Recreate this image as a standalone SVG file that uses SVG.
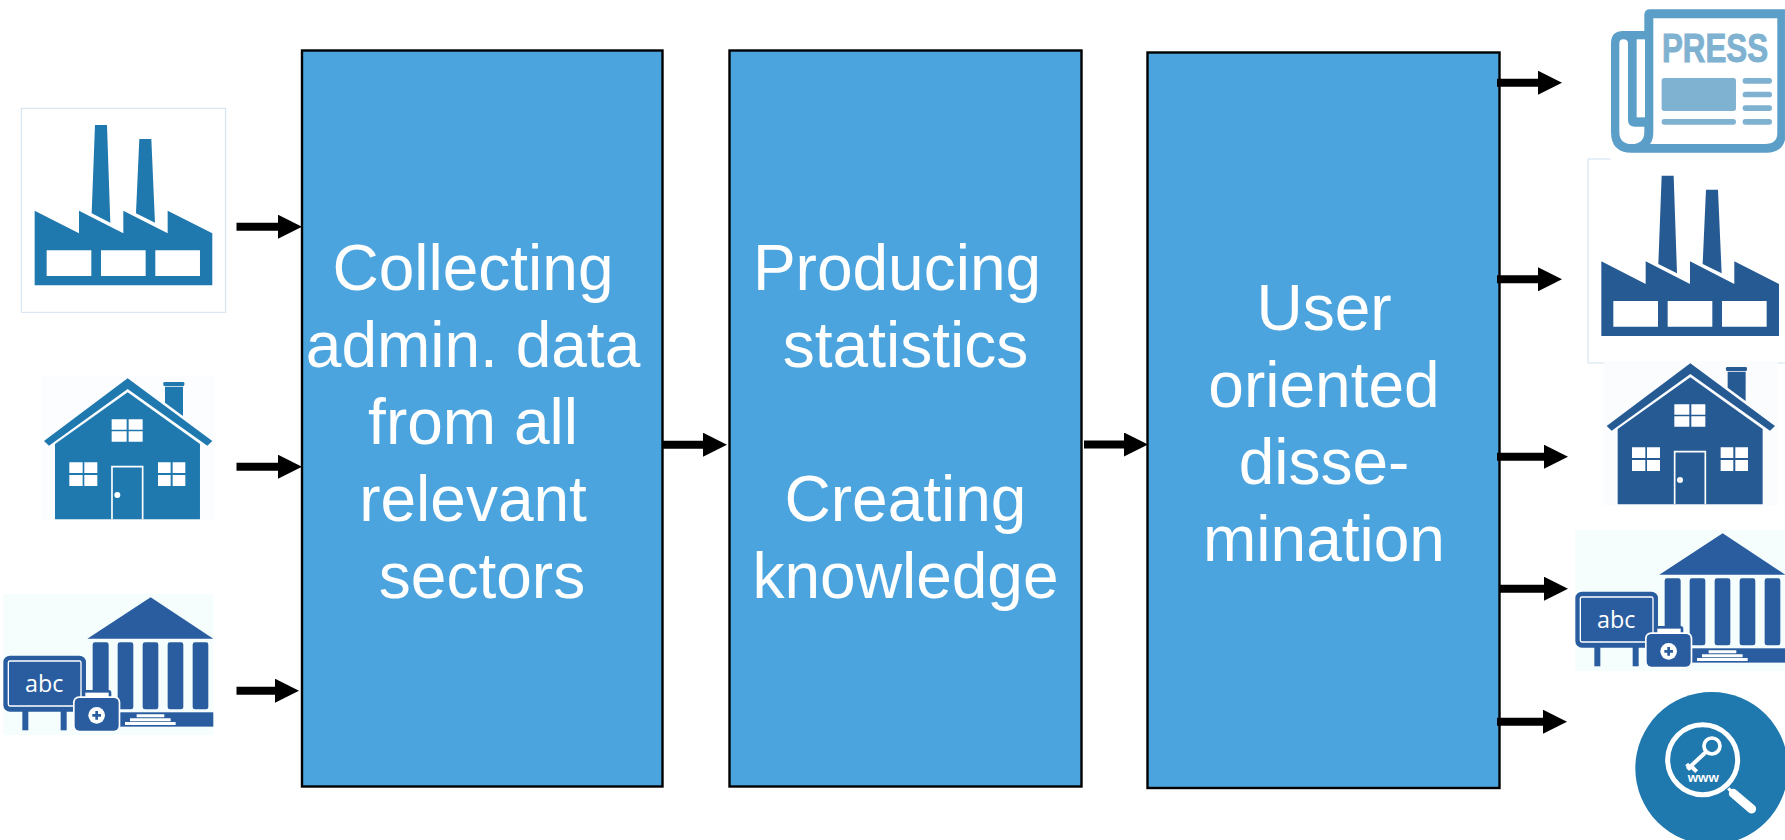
<svg xmlns="http://www.w3.org/2000/svg" xmlns:xlink="http://www.w3.org/1999/xlink" width="1785" height="840" viewBox="0 0 1785 840">
<style>
.box{fill:#4ba4de;stroke:#000;stroke-width:2.4}
.lbl{font-family:"Liberation Sans",Arial,sans-serif;font-size:64px;fill:#fff;text-anchor:middle}
.arr{stroke:#000;stroke-width:8;fill:none;marker-end:url(#ah)}
.w{fill:#fff}
.teal{fill:#1f78ae;color:#1f78ae}
.navy{fill:#265a93;color:#265a93}
.inst{fill:#2a5d9f;color:#2a5d9f}
.frame{fill:none;stroke:#cfe2f0;stroke-width:3}
</style>
<defs>
<marker id="ah" markerUnits="userSpaceOnUse" markerWidth="24" markerHeight="24" refX="1" refY="12" orient="auto" viewBox="0 0 24 24"><path d="M0 0L24 12L0 24Z" fill="#000"/></marker>
<g id="factory">
<path d="M285 105H321L331 398L275 370ZM418 147H454L465 398L408 370Z"/>
<path d="M104 362L237 430V362L370 430V362L503 430V362L637 430V586H104Z"/>
<path class="w" d="M140 481H274V558H140ZM303 481H437V558H303ZM466 481H600V558H466Z"/>
</g>
<g id="house">
<path d="M495 80H549V168L495 128Z"/>
<rect x="490" y="66" width="63" height="12" rx="4"/>
<path d="M383 55L637 243L622 257L383 87L147 257L132 243Z"/>
<path d="M165 252L383 97L600 252V478H165Z"/>
<path class="w" d="M335 178H380V209H335ZM386 178H428V209H386ZM335 214H380V245H335ZM386 214H428V245H386Z"/>
<path class="w" d="M208 307H248V339H208ZM253 307H292V339H253ZM208 345H248V378H208ZM253 345H292V378H253Z"/>
<path class="w" d="M474 307H512V339H474ZM518 307H556V339H518ZM474 345H512V378H474ZM518 345H556V378H518Z"/>
<path d="M336 478V320H428V478" fill="none" stroke="#fff" stroke-width="5"/>
<circle class="w" cx="352" cy="405" r="9"/>
</g>
<g id="inst">
<path d="M452 712L640 836H262Z"/>
<rect x="278" y="847" width="48" height="201" rx="7"/>
<rect x="353" y="847" width="47" height="201" rx="7"/>
<rect x="428" y="847" width="47" height="201" rx="7"/>
<rect x="503" y="847" width="47" height="201" rx="7"/>
<rect x="578" y="847" width="47" height="201" rx="7"/>
<rect x="350" y="1057" width="290" height="43"/>
<path class="w" d="M410 1063H493V1072H410ZM390 1075H512V1084H390ZM375 1086H527V1095H375Z"/>
<rect x="67" y="1045" width="18" height="66"/>
<rect x="182" y="1045" width="18" height="66"/>
<rect x="10" y="887" width="248" height="168" rx="20"/>
<rect x="25" y="903" width="218" height="135" rx="5" fill="none" stroke="#fff" stroke-width="4"/>
<text x="133" y="997" font-family="'Open Sans','Liberation Sans',sans-serif" font-size="70" fill="#fff" text-anchor="middle">abc</text>
<rect x="248" y="990" width="86" height="40" rx="8"/>
<rect x="256" y="998" width="70" height="18" fill="#fff"/>
<rect x="219" y="1009" width="142" height="106" rx="18" fill="#fff"/>
<rect x="224" y="1014" width="132" height="98" rx="14"/>
<circle cx="290" cy="1066" r="25" fill="#fff"/>
<path d="M290 1053V1079M277 1066H303" stroke="currentColor" stroke-width="8" fill="none"/>
</g>
</defs>
<rect width="1785" height="840" fill="#fff"/>

<g id="source-enterprise">
<rect class="frame" transform="translate(0 90) scale(.3333)" x="64" y="55" width="613" height="612"/>
<use href="#factory" class="teal" transform="translate(0 90) scale(.3333)"/>
</g>
<g id="source-household" transform="translate(0 360) scale(.3333)">
<rect x="123" y="48" width="522" height="434" fill="#fbfdfe"/>
<use href="#house" class="teal"/>
</g>
<g id="source-institution" transform="translate(0 360) scale(.3333)">
<rect x="10" y="702" width="630" height="423" fill="#f5fdfd"/>
<use href="#inst" class="inst"/>
</g>

<g id="box-collecting">
<rect class="box" x="302" y="50.5" width="360.5" height="736"/>
<text class="lbl" y="290"><tspan x="473">Collecting</tspan><tspan x="473" dy="77">admin. data</tspan><tspan x="473" dy="77">from all</tspan><tspan x="473" dy="77">relevant</tspan><tspan x="482" dy="77">sectors</tspan></text>
</g>
<g id="box-producing">
<rect class="box" x="729.5" y="50.5" width="352" height="736"/>
<text class="lbl" y="290"><tspan x="897">Producing</tspan><tspan x="905.5" dy="77">statistics</tspan><tspan x="905.5" dy="154">Creating</tspan><tspan x="905.5" dy="77">knowledge</tspan></text>
</g>
<g id="box-dissemination">
<rect class="box" x="1147.5" y="52.5" width="352" height="735.5"/>
<text class="lbl" y="330"><tspan x="1324">User</tspan><tspan x="1324" dy="77">oriented</tspan><tspan x="1324" dy="77">disse-</tspan><tspan x="1324" dy="77">mination</tspan></text>
</g>

<g id="connectors">
<path class="arr" d="M236.5 226.7H279"/>
<path class="arr" d="M236.5 466.7H279"/>
<path class="arr" d="M236.5 690.7H276"/>
<path class="arr" d="M663 444.7H704"/>
<path class="arr" d="M1084 444.5H1125"/>
<path class="arr" d="M1497 82.7H1539"/>
<path class="arr" d="M1497 279.3H1539"/>
<path class="arr" d="M1497 456.7H1545"/>
<path class="arr" d="M1500 588.7H1545"/>
<path class="arr" d="M1497 721.7H1544"/>
</g>

<g id="out-enterprise">
<rect class="frame" transform="translate(1566.67 140.67) scale(.3333)" x="64" y="55" width="613" height="612"/>
<use href="#factory" class="navy" transform="translate(1566.67 140.67) scale(.3333)"/>
</g>
<g id="out-press" transform="translate(1490 0) scale(.3333)">
<rect x="362" y="0" width="523" height="483" fill="#fff"/>
<path fill="#5b9fc9" d="M363 130Q363 93 400 93H463V45Q463 28 480 28H885V420Q875 458 830 458H425Q363 458 363 395Z"/>
<path class="w" d="M490 55H862V400Q862 432 825 432H480Q490 420 490 395Z"/>
<path class="w" d="M388 130Q388 118 400 118Q414 118 414 130V360Q414 380 435 380H463V395Q463 432 425 432Q388 432 388 395Z"/>
<rect class="w" x="440" y="118" width="25" height="234"/>
<text transform="translate(516 187) scale(.77 1)" font-family="'Liberation Sans',sans-serif" font-weight="bold" font-size="122" fill="#7fb1d1" stroke="#7fb1d1" stroke-width="3">PRESS</text>
<g fill="#7fb1d1">
<rect x="515" y="234" width="223" height="99" rx="8"/>
<rect x="515" y="357" width="223" height="17" rx="8"/>
<rect x="758" y="234" width="88" height="17" rx="8"/>
<rect x="758" y="275" width="88" height="17" rx="8"/>
<rect x="758" y="316" width="88" height="17" rx="8"/>
<rect x="758" y="357" width="88" height="17" rx="8"/>
</g>
</g>
<g id="out-household" transform="translate(1562.67 345) scale(.3333)">
<rect x="123" y="48" width="522" height="434" fill="#fbfcfe"/>
<use href="#house" class="navy"/>
</g>
<g id="out-institution" transform="translate(1572 296) scale(.3333)">
<rect x="10" y="702" width="630" height="423" fill="#f5fdfd"/>
<use href="#inst" class="inst"/>
</g>
<g id="out-web" transform="translate(1490 510) scale(.3333)">
<circle cx="665" cy="775" r="229" fill="#1f78ae"/>
<circle cx="638" cy="749" r="105" fill="none" stroke="#fff" stroke-width="15"/>
<path d="M715 835L730 850" stroke="#fff" stroke-width="10" fill="none"/>
<path d="M730 850L785 897" stroke="#fff" stroke-width="27" stroke-linecap="round" fill="none"/>
<circle cx="666" cy="708" r="24" fill="none" stroke="#fff" stroke-width="11"/>
<path d="M647 727L592 778M603 768L620 785M590 762L604 778" stroke="#fff" stroke-width="12" fill="none"/>
<text x="640" y="817" font-family="'Liberation Sans',sans-serif" font-weight="bold" font-size="40" fill="#fff" text-anchor="middle">www</text>
</g>
</svg>
